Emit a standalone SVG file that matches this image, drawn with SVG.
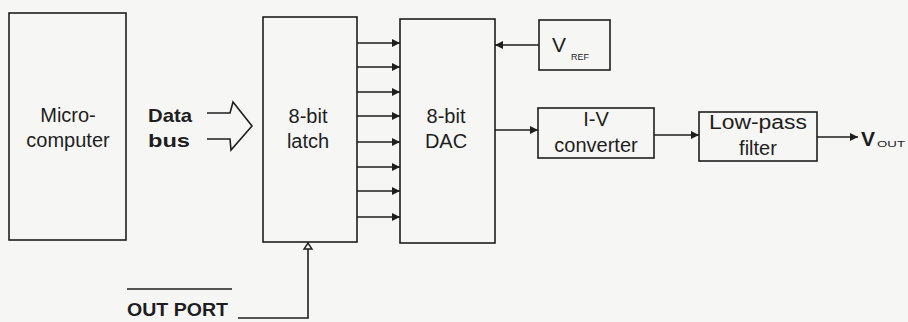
<svg xmlns="http://www.w3.org/2000/svg" width="908" height="322" viewBox="0 0 908 322">
<style>
.box{fill:none;stroke:#1e1e1e;stroke-width:1.6}
.ln{fill:none;stroke:#1e1e1e;stroke-width:1.6}
.t{font-family:"Liberation Sans",Arial,sans-serif;font-size:20px;fill:#1e1e1e;text-anchor:middle}
.b{font-family:"Liberation Sans",Arial,sans-serif;font-weight:bold;fill:#1e1e1e}
.s{font-family:"Liberation Sans",Arial,sans-serif;fill:#1e1e1e}
</style>
<defs>
<marker id="ah" markerWidth="9" markerHeight="9" refX="8" refY="4.5" orient="auto" markerUnits="userSpaceOnUse">
<path d="M0,0.5 L8,4.5 L0,8.5 Z" fill="#1e1e1e"/>
</marker>
</defs>
<rect width="908" height="322" fill="#f6f6f4"/>
<g id="microcomputer">
<rect class="box" x="9" y="13" width="117" height="227"/>
<text class="t" x="68" y="122">Micro-</text>
<text class="t" x="68" y="147">computer</text>
</g>
<g id="databus">
<text class="b" x="148" y="122" font-size="19" textLength="44" lengthAdjust="spacingAndGlyphs">Data</text>
<text class="b" x="148" y="147" font-size="19" textLength="42" lengthAdjust="spacingAndGlyphs">bus</text>
</g>
<g id="latch">
<rect class="box" x="263" y="17" width="94" height="225"/>
<text class="t" x="308" y="123">8-bit</text>
<text class="t" x="308" y="148">latch</text>
</g>
<g id="dac">
<rect class="box" x="400" y="19" width="95" height="224"/>
<text class="t" x="446" y="123">8-bit</text>
<text class="t" x="446" y="148">DAC</text>
</g>
<g id="vref">
<rect class="box" x="539" y="20" width="71" height="50"/>
<text class="s" x="552" y="52" font-size="21">V</text>
<text class="s" x="571" y="60" font-size="9">REF</text>
</g>
<g id="iv">
<rect class="box" x="538" y="108" width="116" height="50"/>
<text class="t" x="596" y="126">I-V</text>
<text class="t" x="596" y="152">converter</text>
</g>
<g id="lpf">
<rect class="box" x="699" y="112" width="118" height="49"/>
<text class="t" x="758" y="129" textLength="98" lengthAdjust="spacingAndGlyphs">Low-pass</text>
<text class="t" x="758" y="155">filter</text>
</g>
<g id="vout">
<text class="b" x="861" y="146" font-size="21">V</text>
<text class="s" x="877" y="147" font-size="9" textLength="28" lengthAdjust="spacingAndGlyphs">OUT</text>
</g>
<g id="outport">
<line class="ln" x1="127" y1="289" x2="232" y2="289"/>
<text class="b" x="127" y="316" font-size="19" textLength="101" lengthAdjust="spacingAndGlyphs">OUT PORT</text>
</g>
<g id="connectors">
<polyline class="ln" points="207,113 230,113 233,102 252,126 231,150 230,139 207,139"/>
<line class="ln" x1="357" y1="43" x2="400" y2="43" marker-end="url(#ah)"/>
<line class="ln" x1="357" y1="67" x2="400" y2="67" marker-end="url(#ah)"/>
<line class="ln" x1="357" y1="92" x2="400" y2="92" marker-end="url(#ah)"/>
<line class="ln" x1="357" y1="116" x2="400" y2="116" marker-end="url(#ah)"/>
<line class="ln" x1="357" y1="142" x2="400" y2="142" marker-end="url(#ah)"/>
<line class="ln" x1="357" y1="167" x2="400" y2="167" marker-end="url(#ah)"/>
<line class="ln" x1="357" y1="191" x2="400" y2="191" marker-end="url(#ah)"/>
<line class="ln" x1="357" y1="217" x2="400" y2="217" marker-end="url(#ah)"/>
<line class="ln" x1="539" y1="45" x2="495" y2="45" marker-end="url(#ah)"/>
<line class="ln" x1="495" y1="130" x2="538" y2="130" marker-end="url(#ah)"/>
<line class="ln" x1="654" y1="135" x2="699" y2="135" marker-end="url(#ah)"/>
<line class="ln" x1="817" y1="137" x2="858" y2="137" marker-end="url(#ah)"/>
<polyline class="ln" points="238,318 308,318 308,249"/>
<path d="M304,249 L312,249 L308,243 Z" fill="#f6f6f4" stroke="#1e1e1e" stroke-width="1.4"/>
</g>
</svg>
